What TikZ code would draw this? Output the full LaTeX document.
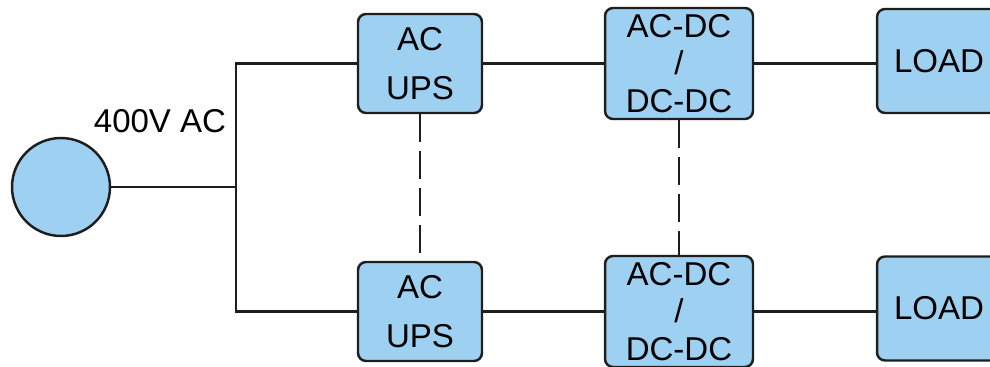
\documentclass[tikz,border=0pt]{standalone}
\usepackage{fontspec}
\setmainfont{Liberation Sans}
\definecolor{boxblue}{HTML}{9DD0F1}
\definecolor{boxline}{HTML}{1E1E1E}
\tikzset{
    unit/.style={draw=boxline, fill=boxblue, line width=1.4pt, rounded corners=0.16cm,
        align=center, inner sep=0pt, font=\fontsize{18.8}{27.6}\selectfont},
    upsbox/.style={unit, minimum width=2.48cm, minimum height=1.98cm},
    convbox/.style={unit, minimum width=2.96cm, minimum height=2.22cm,
        font=\fontsize{18.8}{21.3}\selectfont},
    loadbox/.style={unit, minimum width=2.48cm, minimum height=2.08cm},
    wire/.style={line width=1.3pt, boxline},
    link/.style={wire, dash pattern=on 0.56cm off 0.18cm}
}
\begin{document}
\begin{tikzpicture}[x=0.02cm, y=-0.02cm]
        \useasboundingbox (0,0) rectangle (990,367);

        % source
        \node[circle, draw=boxline, fill=boxblue, line width=1.4pt, minimum size=1.96cm, inner sep=0pt] (src) at (61,187) {};
        \node[font=\fontsize{18.8}{21}\selectfont] (volt) at (160,121) {400V AC};
        \coordinate (junc) at (236,187);

        % two parallel rows
        \foreach \r/\y/\ly in {top/63.5/61, bot/311.5/308.5} {
            \node[upsbox] (ups\r) at (420,\y) {AC\\UPS};
            \node[convbox] (conv\r) at (679,\y) {AC-DC\\/\\DC-DC};
            \node[loadbox] (load\r) at (939,\ly) {LOAD};
            \draw[wire] (ups\r) -- (conv\r);
            \draw[wire] (conv\r) -- (conv\r.east -| load\r.west);
        }

        % feed
        \draw[wire] (src) -- (junc);
        \draw[wire] (upstop.west) -| (junc) |- (upsbot.west);

        % redundancy links
        \draw[link] (upstop) -- (upsbot);
        \draw[link] (convtop) -- (convbot);
    \end{tikzpicture}
\end{document}
